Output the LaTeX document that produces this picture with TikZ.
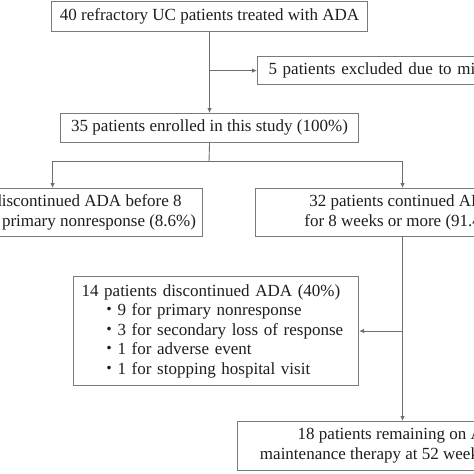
\documentclass[tikz,border=0pt]{standalone}
\usepackage{fontspec}
\setmainfont{Liberation Serif}
\newfontfamily\cjk{Noto Sans CJK JP}
\usetikzlibrary{arrows.meta}
\definecolor{boxgray}{HTML}{7A7A7A}
\definecolor{linegray}{HTML}{6E6E6E}
\definecolor{txt}{HTML}{1E1E1E}
\begin{document}
\begin{tikzpicture}[x=1pt,y=-1pt,
  box/.style={draw=boxgray, line width=1.1pt, rectangle, anchor=north west,
    inner sep=0pt, font=\fontsize{17}{19.5}\selectfont, text=txt, align=center},
  conn/.style={draw=linegray, line width=0.9pt},
  arr/.style={conn, -{Latex[length=5pt,width=4.5pt]}}]
\useasboundingbox (0,0) rectangle (474,474);
\fill[white] (0,0) rectangle (474,474);
\clip (0,0) rectangle (474,474);

\node[box, minimum width=316pt, minimum height=29.5pt] (top) at (51,1)
  {40 refractory UC patients treated with ADA};
\node[box, minimum width=342pt, minimum height=28pt, text width=320pt,
  inner xsep=11pt, align=left] (excl) at (257,56)
  {5 patients excluded due to missing data};
\node[box, minimum width=298pt, minimum height=28.7pt] (enr) at (60,113)
  {35 patients enrolled in this study (100\%)};
\node[box, minimum width=299.4pt, minimum height=48pt] (left) at (-97.7,188)
  {3 patients discontinued ADA before 8\\weeks due to primary nonresponse (8.6\%)};
\node[box, minimum width=294pt, minimum height=48pt] (right) at (255,188)
  {32 patients continued ADA\\for 8 weeks or more (91.4\%)};
\node[box, minimum width=285.3pt, minimum height=109pt, text width=268.7pt,
  inner xsep=8.3pt, align=left] (disc) at (72.7,276)
  {14 patients discontinued ADA (40\%)\\
   \hspace*{19pt}{\cjk ・}9 for primary nonresponse\\
   \hspace*{19pt}{\cjk ・}3 for secondary loss of response\\
   \hspace*{19pt}{\cjk ・}1 for adverse event\\
   \hspace*{19pt}{\cjk ・}1 for stopping hospital visit};
\node[box, minimum width=330.6pt, minimum height=48.7pt] (rem) at (236.7,421)
  {18 patients remaining on ADA\\maintenance therapy at 52 weeks (51.4\%)};

\coordinate (b1) at (top.south |- excl.west);
\coordinate (s) at (209,161.7);
\coordinate (b2) at (right.south |- disc.east);

\draw[arr] (top.south) -- (enr.north);
\draw[arr] (b1) -- (excl.west);
\draw[conn] (enr.south) -- (s);
\draw[arr] (s) -| (left.north);
\draw[arr] (s) -| (right.north);
\draw[arr] (right.south) -- (rem.north);
\draw[arr] (b2) -- (disc.east);
\end{tikzpicture}
\end{document}
